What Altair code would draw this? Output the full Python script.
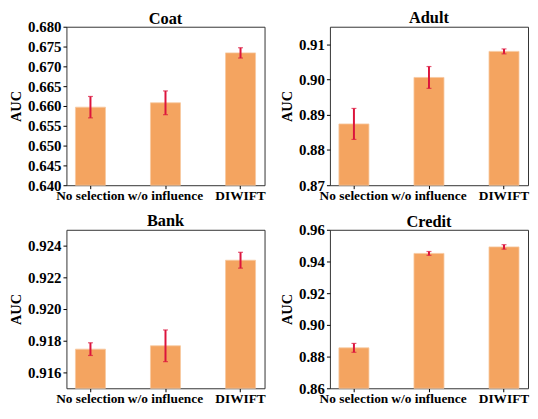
import altair as alt
import pandas as pd

methods = ["No selection", "w/o influence", "DIWIFT"]

coat_auc = [0.6597, 0.6608, 0.6734]
coat_err = [0.0027, 0.0030, 0.0013]
adult_auc = [0.8874, 0.9006, 0.9080]
adult_err = [0.0044, 0.0031, 0.0007]
bank_auc = [0.91747, 0.91768, 0.92308]
bank_err = [0.0004, 0.0010, 0.0005]
credit_auc = [0.8855, 0.9451, 0.9492]
credit_err = [0.0028, 0.0012, 0.0014]

coat_ticks = [0.640, 0.645, 0.650, 0.655, 0.660, 0.665, 0.670, 0.675, 0.680]
adult_ticks = [0.87, 0.88, 0.89, 0.90, 0.91]
bank_ticks = [0.916, 0.918, 0.920, 0.922, 0.924]
credit_ticks = [0.86, 0.88, 0.90, 0.92, 0.94, 0.96]

FONT = "Liberation Serif"
BAR = "#F4A460"
ERR = "#DC143C"
W, H = 200, 160


def panel(title, auc, err, domain, ticks, fmt, toff):
    df = pd.DataFrame({"method": methods, "auc": auc, "err": err})
    df["lo"] = df["auc"] - df["err"]
    df["hi"] = df["auc"] + df["err"]
    xaxis = alt.Axis(labelAngle=0, labelFont=FONT, labelFontSize=13.5,
                     labelFontWeight="bold", labelColor="black",
                     tickColor="black", tickSize=3.5, labelPadding=0,
                     labelOverlap=False, domain=False, grid=False)
    xscale = alt.Scale(paddingInner=0.6, paddingOuter=0.12)
    yaxis = alt.Axis(values=ticks, format=fmt, labelFont=FONT,
                     labelFontSize=15, labelFontWeight="bold",
                     labelColor="black", tickColor="black", tickSize=3.5,
                     labelPadding=2, labelOverlap=False, titleFont=FONT,
                     titleFontSize=14.5, titleFontWeight="bold",
                     titleColor="black", titlePadding=4, domain=False,
                     grid=False)
    yscale = alt.Scale(domain=domain, zero=False, nice=False)

    def xenc():
        return alt.X("method:N", sort=methods, title=None, scale=xscale, axis=xaxis)

    def yenc(field):
        return alt.Y(field, scale=yscale, title="AUC", axis=yaxis)

    base = alt.Chart(df)
    bars = base.mark_bar(color=BAR, stroke="#F8C9A0", strokeWidth=0.8).encode(
        x=xenc(), y=yenc("auc:Q"), y2=alt.datum(domain[0])
    )
    rule = base.mark_rule(color=ERR, strokeWidth=2).encode(
        x=xenc(), y=yenc("lo:Q"), y2="hi:Q",
    )
    cap_hi = base.mark_tick(color=ERR, thickness=1.2, size=5, orient="horizontal").encode(
        x=xenc(), y=yenc("hi:Q"),
    )
    cap_lo = base.mark_tick(color=ERR, thickness=1.2, size=5, orient="horizontal").encode(
        x=xenc(), y=yenc("lo:Q"),
    )
    return alt.layer(bars, rule, cap_hi, cap_lo).properties(
        width=W, height=H,
        title=alt.TitleParams(title, font=FONT, fontSize=16.5, fontWeight="bold",
                              color="black", offset=toff, anchor="middle",
                              frame="group"),
    )


coat = panel("Coat", coat_auc, coat_err, [0.640, 0.680], coat_ticks, ".3f", -8)
adult = panel("Adult", adult_auc, adult_err, [0.870, 0.915], adult_ticks, ".2f", 0)
bank = panel("Bank", bank_auc, bank_err, [0.915, 0.925], bank_ticks, ".3f", 0)
credit = panel("Credit", credit_auc, credit_err, [0.860, 0.960], credit_ticks, ".2f", -8)

row1 = alt.hconcat(coat, adult, spacing=12)
row2 = alt.hconcat(bank, credit, spacing=12)

chart = alt.vconcat(row1, row2, spacing=10).properties(
    padding={"left": 0, "top": 0, "right": 0, "bottom": 0},
    background="white",
).configure_view(
    stroke="#333333", strokeWidth=1
)

chart.save("out.html", embed_options={"renderer": "svg", "actions": False})
